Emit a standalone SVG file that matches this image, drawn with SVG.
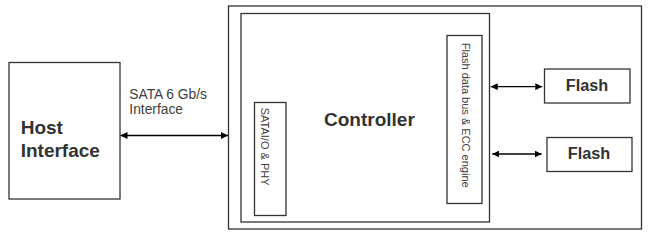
<svg xmlns="http://www.w3.org/2000/svg" width="650" height="235" viewBox="0 0 650 235">
  <defs>
    <style>
      .box { fill: #ffffff; stroke: #333333; stroke-width: 1.3; }
      .frame { fill: none; stroke: #333333; stroke-width: 1.3; }
      .conn { stroke: #000000; stroke-width: 1.3; fill: none; }
      .big { font-family: "Liberation Sans", Arial, sans-serif; font-weight: bold; font-size: 19px; fill: #333333; }
      .flash { font-family: "Liberation Sans", Arial, sans-serif; font-weight: bold; font-size: 16.3px; fill: #333333; }
      .lbl { font-family: "Liberation Sans", Arial, sans-serif; font-size: 13.8px; fill: #404040; }
      .vt { font-family: "Liberation Sans", Arial, sans-serif; font-size: 11px; fill: #404040; }
    </style>
    <marker id="ah" viewBox="0 0 10 10" refX="10" refY="5" markerWidth="7" markerHeight="7" markerUnits="userSpaceOnUse" orient="auto-start-reverse">
      <path d="M0,0 L10,5 L0,10 z" fill="#000000"/>
    </marker>
  </defs>
  <rect width="650" height="235" fill="#ffffff"/>

  <g id="drive">
    <rect class="frame" x="228.5" y="6" width="413" height="223"/>
  </g>

  <g id="controller">
    <rect class="box" x="241" y="13.5" width="248.5" height="208.5"/>
    <text class="big" x="324" y="126">Controller</text>
  </g>

  <g id="sata-phy">
    <rect class="box" x="254.5" y="102.5" width="31.5" height="113"/>
    <text class="vt" transform="rotate(90 261 107.7)" x="261" y="107.7">SATAI/O &amp; PHY</text>
  </g>

  <g id="flash-bus">
    <rect class="box" x="447" y="35.5" width="35" height="168"/>
    <text class="vt" transform="rotate(90 461.5 42.7)" x="461.5" y="42.7">Flash data bus &amp; ECC engine</text>
  </g>

  <g id="host">
    <rect class="box" x="9" y="62.5" width="111" height="136.5"/>
    <text class="big" x="20.7" y="134">Host</text>
    <text class="big" x="20.7" y="157">Interface</text>
  </g>

  <g id="flash1">
    <rect class="box" x="544.5" y="69" width="85.5" height="34"/>
    <text class="flash" x="565.7" y="91.3">Flash</text>
  </g>

  <g id="flash2">
    <rect class="box" x="547" y="137.5" width="85" height="34"/>
    <text class="flash" x="567.7" y="159.3">Flash</text>
  </g>

  <g id="connectors">
    <line class="conn" x1="120.5" y1="135.5" x2="228" y2="135.5" marker-start="url(#ah)" marker-end="url(#ah)"/>
    <line class="conn" x1="490.7" y1="86.7" x2="542.3" y2="86.7" marker-start="url(#ah)" marker-end="url(#ah)"/>
    <line class="conn" x1="492.3" y1="154" x2="541.7" y2="154" marker-start="url(#ah)" marker-end="url(#ah)"/>
    <text class="lbl" x="129.3" y="99">SATA 6 Gb/s</text>
    <text class="lbl" x="129.3" y="114">Interface</text>
  </g>
</svg>
